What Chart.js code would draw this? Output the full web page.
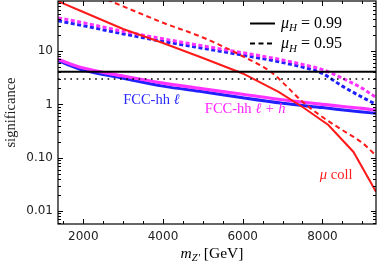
<!DOCTYPE html>
<html>
<head>
<meta charset="utf-8">
<script src="https://cdn.jsdelivr.net/npm/chart.js@4.4.0/dist/chart.umd.min.js"></script>
<style>
  html, body { margin: 0; padding: 0; background: #fff; }
  #wrap { width: 381px; height: 270px; }
</style>
</head>
<body>
<div id="wrap"><canvas id="sigChart" width="381" height="270"></canvas></div>
<script>
// Axis ranges and tick labels
const xMin = 1365, xMax = 9345;
const yMin = 0.0057, yMax = 87;
const xTickValues = [2000, 4000, 6000, 8000];
const xTickLabels = ['2000', '4000', '6000', '8000'];
const yTickValues = [0.01, 0.1, 1, 10];
const yTickLabels = ['0.01', '0.10', '1', '10'];

// FCC-hh, mu_H = 0.99 (solid)
const fccMass99 = [1365, 2000, 3000, 4000, 5000, 6000, 7000, 8000, 9000, 9345];
const fccLepton99 = [6.6, 4.4, 3.1, 2.2, 1.72, 1.33, 1.05, 0.87, 0.72, 0.68];
const fccLeptonHad99 = [7.0, 4.8, 3.4, 2.5, 1.95, 1.55, 1.22, 1.0, 0.84, 0.78];

// FCC-hh, mu_H = 0.95 (dashed)
const fccMass95 = [1365, 2000, 3000, 4000, 5000, 6000, 7000, 7500, 8000, 8500, 9000, 9345];
const fccLepton95 = [37, 30, 21, 15.2, 11.3, 8.4, 6.1, 5.0, 3.8, 2.2, 1.36, 1.0];
const fccLeptonHad95 = [42, 34, 23.5, 17, 12.5, 9.3, 6.8, 5.6, 4.5, 3.1, 2.0, 1.35];

// muon collider
const muMass99 = [1365, 2000, 3000, 4000, 5000, 6000, 6900, 7520, 8150, 8780, 9345];
const muColl99 = [86, 54, 26, 14.2, 7.4, 3.8, 1.71, 0.875, 0.41, 0.128, 0.023];
const muMass95 = [2400, 3000, 4000, 5000, 6000, 6700, 7000, 7500, 8000, 8500, 9000, 9345];
const muColl95 = [106, 69, 34, 18, 8.0, 4.1, 2.6, 1.12, 0.58, 0.33, 0.19, 0.11];

// horizontal reference levels
const solidLevel = 4.1;
const dottedLevel = 3;

// text labels placed in data units (left edge, baseline)
const notes = [
    { text: 'FCC-hh ', tail: 'ℓ', x: 3000, y: 1.0, color: '#2a2aff' },
    { text: 'FCC-hh ', tail: 'ℓ + h', x: 5050, y: 0.68, color: '#ff22ff' },
    { text: '', head: 'μ', tail2: ' coll', x: 7936, y: 0.04, color: '#ff2020' }
];

const serif = '"Liberation Serif", "Times New Roman", serif';

const pts = (xs, ys) => xs.map((x, i) => ({ x: x, y: ys[i] }));

function line(data, color, width, dash, smooth) {
    return {
        data: data,
        borderColor: color,
        borderWidth: width,
        borderDash: dash || [],
        pointRadius: 0,
        fill: false,
        clip: 0,
        cubicInterpolationMode: smooth ? 'monotone' : 'default',
        tension: 0
    };
}

// draw a run of text pieces, each with its own font / offset
function drawRich(ctx, parts, x, y) {
    let cx = x;
    parts.forEach(p => {
        ctx.font = p.font;
        ctx.fillText(p.t, cx, y + (p.dy || 0));
        cx += ctx.measureText(p.t).width;
    });
}

const decorations = {
    id: 'decorations',
    afterDatasetsDraw(chart) {
        const { ctx, chartArea: a, scales: { x, y } } = chart;
        ctx.save();

        // frame
        ctx.strokeStyle = '#000';
        ctx.lineWidth = 1.2;
        ctx.strokeRect(a.left, a.top, a.right - a.left, a.bottom - a.top);

        // x ticks (inward, top and bottom)
        ctx.lineWidth = 1;
        for (let v = 1500; v <= 9000; v += 500) {
            const px = Math.round(x.getPixelForValue(v)) + 0.5;
            const len = xTickValues.includes(v) ? 5 : 3;
            ctx.beginPath();
            ctx.moveTo(px, a.bottom); ctx.lineTo(px, a.bottom - len);
            ctx.moveTo(px, a.top); ctx.lineTo(px, a.top + len);
            ctx.stroke();
        }
        // y ticks (inward, left and right)
        for (let d = -3; d <= 2; d++) {
            for (let k = 1; k <= 9; k++) {
                const v = k * Math.pow(10, d);
                if (v < yMin || v > yMax) continue;
                const py = Math.round(y.getPixelForValue(v)) + 0.5;
                const len = k === 1 ? 5 : 3;
                ctx.beginPath();
                ctx.moveTo(a.left, py); ctx.lineTo(a.left + len, py);
                ctx.moveTo(a.right, py); ctx.lineTo(a.right - len, py);
                ctx.stroke();
            }
        }

        // curve labels
        ctx.textBaseline = 'alphabetic';
        ctx.textAlign = 'left';
        const fs = 14.5;
        notes.forEach(n => {
            ctx.fillStyle = n.color;
            const parts = [];
            if (n.text) parts.push({ t: n.text, font: fs + 'px ' + serif });
            if (n.tail) parts.push({ t: n.tail, font: 'italic ' + fs + 'px ' + serif });
            if (n.head) parts.push({ t: n.head, font: 'italic ' + fs + 'px ' + serif });
            if (n.tail2) parts.push({ t: n.tail2, font: fs + 'px ' + serif });
            drawRich(ctx, parts, x.getPixelForValue(n.x), y.getPixelForValue(n.y));
        });

        // legend
        const lx0 = a.right - 126, lx1 = a.right - 101, tx = a.right - 95;
        const rows = [
            { dash: [], val: '0.99', ly: a.top + 22.5, by: a.top + 26.5 },
            { dash: [5, 3.5], val: '0.95', ly: a.top + 42.5, by: a.top + 47.3 }
        ];
        rows.forEach(r => {
            ctx.strokeStyle = '#000';
            ctx.lineWidth = 2;
            ctx.setLineDash(r.dash);
            ctx.beginPath();
            ctx.moveTo(lx0, r.ly); ctx.lineTo(lx1, r.ly);
            ctx.stroke();
            ctx.setLineDash([]);
            ctx.fillStyle = '#000';
            drawRich(ctx, [
                { t: 'μ', font: 'italic 16px ' + serif },
                { t: 'H', font: 'italic 11px ' + serif, dy: 3.5 },
                { t: ' = ' + r.val, font: '16px ' + serif }
            ], tx, r.by);
        });

        // x axis title
        ctx.fillStyle = '#000';
        const titleParts = [
            { t: 'm', font: 'italic 15.5px ' + serif },
            { t: 'Z′', font: 'italic 10.5px ' + serif, dy: 3 },
            { t: ' [GeV]', font: '15.5px ' + serif }
        ];
        let w = 0;
        titleParts.forEach(p => { ctx.font = p.font; w += ctx.measureText(p.t).width; });
        drawRich(ctx, titleParts, (a.left + a.right) / 2 - 5 - w / 2, 258);

        ctx.restore();
    }
};

const datasets = [
    line(pts([xMin, xMax], [solidLevel, solidLevel]), '#000', 2),
    line(pts([xMin, xMax], [dottedLevel, dottedLevel]), '#000', 1.6, [1.6, 4.6]),
    line(pts(muMass99, muColl99), '#ff1a1a', 2, null, false),
    line(pts(muMass95, muColl95), '#ff1a1a', 2, [5, 3.5], true),
    line(pts(fccMass99, fccLeptonHad99), '#ff33ff', 3.2, null, true),
    line(pts(fccMass99, fccLepton99), '#2020ff', 3, null, true),
    line(pts(fccMass95, fccLeptonHad95), '#ff33ff', 3, [4, 2.5], true),
    line(pts(fccMass95, fccLepton95), '#2020ff', 3, [4, 2.5], true)
];

const ctx = document.getElementById('sigChart').getContext('2d');
new Chart(ctx, {
    type: 'line',
    data: { datasets: datasets },
    options: {
        responsive: false,
        animation: false,
        devicePixelRatio: 1,
        layout: { padding: { top: 1, right: 5, left: 0, bottom: 0 } },
        plugins: { legend: { display: false }, tooltip: { enabled: false } },
        scales: {
            x: {
                type: 'linear',
                min: xMin,
                max: xMax,
                grid: { display: false, drawTicks: false },
                border: { display: false },
                afterBuildTicks: s => { s.ticks = xTickValues.map(v => ({ value: v })); },
                afterFit: s => { s.height = 46; s.paddingLeft = 0; s.paddingRight = 0; },
                ticks: {
                    padding: 6,
                    maxRotation: 0,
                    autoSkip: false,
                    color: '#222',
                    font: { family: '"DejaVu Sans", sans-serif', size: 12 },
                    callback: (v, i) => xTickLabels[i]
                }
            },
            y: {
                type: 'logarithmic',
                min: yMin,
                max: yMax,
                grid: { display: false, drawTicks: false },
                border: { display: false },
                afterBuildTicks: s => { s.ticks = yTickValues.map(v => ({ value: v })); },
                afterFit: s => { s.width = 58; s.paddingTop = 0; s.paddingBottom = 0; },
                title: {
                    display: true,
                    text: 'significance',
                    color: '#222',
                    padding: { top: 2, bottom: 0 },
                    font: { family: serif, size: 14.5 }
                },
                ticks: {
                    padding: 5,
                    autoSkip: false,
                    color: '#222',
                    font: { family: '"DejaVu Sans", sans-serif', size: 12 },
                    callback: (v, i) => yTickLabels[i]
                }
            }
        }
    },
    plugins: [decorations]
});
</script>
</body>
</html>
